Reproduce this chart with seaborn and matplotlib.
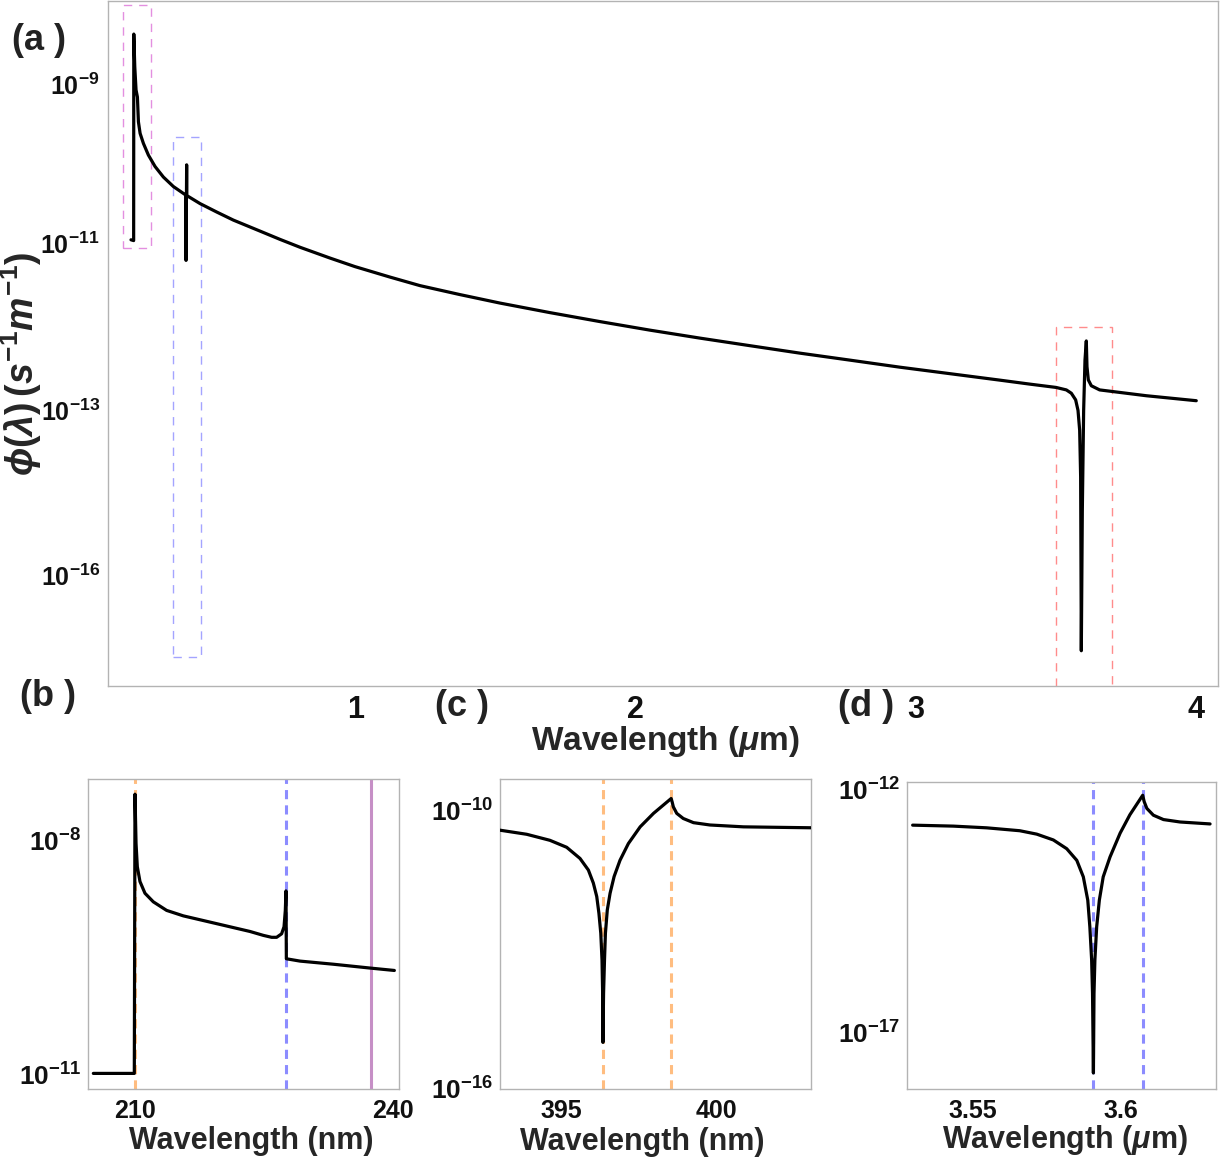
import numpy as np
import pandas as pd
import matplotlib
matplotlib.use("Agg")
import matplotlib.pyplot as plt
from matplotlib.patches import Rectangle
from matplotlib.ticker import FixedLocator, FixedFormatter, NullLocator
import seaborn as sns

# ---------------- data (phi given as log10 values) ----------------
# (a) full spectrum, wavelength in um
wl_a = [0.200, 0.2095, 0.2100, 0.2135, 0.2180, 0.2229, 0.2265, 0.2325, 0.2442,
        0.2620, 0.2859, 0.3155, 0.3512, 0.3954, 0.3963, 0.3985, 0.3990, 0.4463,
        0.5059, 0.5651, 0.6602, 0.7316, 0.8029, 0.9098, 0.9989, 1.1237, 1.2307,
        1.3733, 1.5159, 1.6941, 1.8724, 2.0506, 2.2289, 2.4071, 2.5854, 2.7636,
        2.9418, 3.1201, 3.2984, 3.4053, 3.4993, 3.5361, 3.5539, 3.5693, 3.5777,
        3.5836, 3.5871, 3.5895, 3.5931, 3.5978, 3.6026, 3.6073, 3.6097, 3.6145,
        3.6252, 3.6549, 3.7025, 3.8213, 3.9995]
logphi_a = [-10.95, -10.96, -8.37, -8.78, -9.07, -9.16, -9.47, -9.615, -9.74,
            -9.887, -10.031, -10.163, -10.282, -10.389, -11.20, -10.01, -10.395, -10.496,
            -10.602, -10.703, -10.841, -10.945, -11.042, -11.172, -11.275, -11.401, -11.504,
            -11.612, -11.714, -11.829, -11.937, -12.040, -12.136, -12.227, -12.317, -12.401,
            -12.486, -12.564, -12.642, -12.69, -12.73, -12.76, -12.80, -12.88, -13.01,
            -13.37, -14.22, -17.37, -14.82, -13.01, -12.40, -12.17, -12.48, -12.64,
            -12.71, -12.76, -12.78, -12.83, -12.89]

# (b) 205-240 nm
wl_b = [205.155, 209.92, 210.00, 210.12, 210.27, 210.58, 211.16, 212.13, 213.68,
        215.62, 217.56, 219.50, 221.43, 223.37, 224.92, 225.89, 226.47, 227.05,
        227.33, 227.48, 227.56, 227.60, 229.19, 233.06, 237.40, 240.16]
logphi_b = [-10.98, -10.98, -7.40, -8.03, -8.33, -8.52, -8.67, -8.78, -8.89,
            -8.96, -9.01, -9.06, -9.11, -9.16, -9.21, -9.235, -9.235, -9.19,
            -9.10, -8.89, -8.64, -9.51, -9.54, -9.58, -9.63, -9.66]

# (c) 393-403 nm
wl_c = [392.99, 393.87, 394.62, 395.16, 395.59, 395.86, 396.02, 396.13, 396.20,
        396.26, 396.30, 396.32, 396.33, 396.35, 396.38, 396.41, 396.47, 396.56,
        396.69, 396.88, 397.15, 397.53, 397.96, 398.53, 398.56, 398.60, 398.71,
        398.92, 399.25, 399.78, 400.86, 401.93, 403.05]
logphi_c = [-10.43, -10.52, -10.65, -10.80, -11.04, -11.29, -11.57, -11.86, -12.22,
            -12.65, -13.23, -13.94, -15.00, -13.94, -13.23, -12.65, -12.15, -11.79,
            -11.43, -11.08, -10.72, -10.36, -10.07, -9.75, -9.82, -9.93, -10.07,
            -10.18, -10.27, -10.32, -10.36, -10.37, -10.38]

# (d) 3.53-3.63 um
wl_d = [3.5298, 3.5435, 3.5547, 3.5659, 3.5716, 3.5772, 3.5817, 3.5851, 3.5873,
        3.5888, 3.5895, 3.5901, 3.5904, 3.5907, 3.5909, 3.5912, 3.5918, 3.5927,
        3.5940, 3.5963, 3.5997, 3.6030, 3.6073, 3.6078, 3.6087, 3.6109, 3.6143,
        3.6199, 3.6300]
logphi_d = [-12.735, -12.755, -12.79, -12.85, -12.92, -13.04, -13.22, -13.46, -13.80,
            -14.28, -14.83, -15.51, -16.20, -17.84, -16.20, -15.51, -14.83, -14.28,
            -13.80, -13.39, -12.90, -12.52, -12.12, -12.25, -12.39, -12.53, -12.62,
            -12.67, -12.71]

# marker lines (wavelengths)
lines_b_orange = [210.0]
lines_b_blue = [227.6]
lines_b_purple = [237.4]
lines_c_orange = [396.34, 398.53]
lines_d_blue = [3.5907, 3.6073]

# zoom boxes in (a): (x0, x1, log y0, log y1, colour)
boxes_a = [(0.171, 0.271, -11.05, -8.0, "#e38fe0"),
           (0.349, 0.450, -17.49, -9.66, "#a4a4ff"),
           (3.499, 3.699, -20.0, -12.0, "#ff8c8c")]

# y tick positions of the (non uniform) vertical scale in (a), pixel rows
tick_logs_a = np.array([-16.0, -13.0, -11.0, -9.0])
tick_rows_a = -np.array([575.0, 409.7, 243.7, 84.3])

# ---------------- style ----------------
sns.set_style("white")
plt.rcParams['font.family'] = ['Liberation Sans', 'DejaVu Sans']
plt.rcParams['font.weight'] = 'bold'
plt.rcParams['mathtext.fontset'] = 'custom'
plt.rcParams['mathtext.rm'] = 'Liberation Sans:bold'
plt.rcParams['mathtext.it'] = 'Liberation Sans:italic:bold'
plt.rcParams['mathtext.bf'] = 'Liberation Sans:bold'
plt.rcParams['mathtext.sf'] = 'Liberation Sans:bold'
plt.rcParams['mathtext.default'] = 'rm'
plt.rcParams['mathtext.fallback'] = 'stixsans'

W, H = 1221, 1157
fig = plt.figure(figsize=(W / 100, H / 100), dpi=100)


def box(l, r, t, b):
    return [l / W, (H - b) / H, (r - l) / W, (b - t) / H]


def lin_extrap(x, xp, fp):
    x = np.asarray(x, float)
    y = np.interp(x, xp, fp)
    y = np.where(x < xp[0], fp[0] + (x - xp[0]) * (fp[1] - fp[0]) / (xp[1] - xp[0]), y)
    y = np.where(x > xp[-1], fp[-1] + (x - xp[-1]) * (fp[-1] - fp[-2]) / (xp[-1] - xp[-2]), y)
    return y


def fwd(v):
    return lin_extrap(np.log10(np.clip(v, 1e-300, None)), tick_logs_a, tick_rows_a)


def inv(p):
    return 10.0 ** lin_extrap(p, tick_rows_a, tick_logs_a)


def dec(e):
    return r"$10^{%d}$" % e


def style_axes(ax, xfs, yfs, xpad, ypad):
    for s in ax.spines.values():
        s.set_color("#b3b3b3")
        s.set_linewidth(1.0)
    ax.tick_params(which="both", direction="in", length=6, width=1, color="#a0a0a0",
                   labelcolor="#111111")
    ax.tick_params(axis="x", labelsize=xfs, pad=xpad)
    ax.tick_params(axis="y", labelsize=yfs, pad=ypad)
    ax.yaxis.set_minor_locator(NullLocator())
    ax.xaxis.set_minor_locator(NullLocator())
    ax.set_facecolor("white")


def curve(ax, wl, logphi):
    df = pd.DataFrame({"wl": wl, "phi": 10.0 ** np.array(logphi)})
    sns.lineplot(data=df, x="wl", y="phi", ax=ax, color="black", lw=2.3,
                 estimator=None, sort=False, zorder=3)
    ax.set_xlabel("")
    ax.set_ylabel("")


dash = (0, (3, 2))
sub_label_y = -0.12

# ---------------- (a) ----------------
axa = fig.add_axes(box(108, 1218, 1, 686))
curve(axa, wl_a, logphi_a)
axa.set_yscale("function", functions=(fwd, inv))
for x0, x1, y0, y1, c in boxes_a:
    axa.add_patch(Rectangle((x0, 10.0 ** y0), x1 - x0, 10.0 ** y1 - 10.0 ** y0,
                            fill=False, edgecolor=c, lw=1.0, ls=(0, (6, 5)), zorder=2))
axa.set_xlim(0.118, 4.077)
axa.set_ylim(10 ** -18.01, 10 ** -7.955)
axa.yaxis.set_major_locator(FixedLocator(10.0 ** tick_logs_a))
axa.yaxis.set_major_formatter(FixedFormatter([dec(int(e)) for e in tick_logs_a]))
axa.xaxis.set_major_locator(FixedLocator([1, 2, 3, 4]))
axa.xaxis.set_major_formatter(FixedFormatter(["1", "2", "3", "4"]))
style_axes(axa, 22, 18, 6.5, 6)
axa.set_xlabel(r"Wavelength ($\mathit{\mu}$m)", fontsize=24, fontweight="bold")
axa.xaxis.set_label_coords(0.502, -0.055)
axa.set_ylabel(r"$\mathit{\phi}(\mathit{\lambda})\,(\mathit{s}^{-1}\mathit{m}^{-1})$",
               fontsize=27)
axa.yaxis.set_label_coords(-0.058, 0.47)

# ---------------- (b) ----------------
axb = fig.add_axes(box(88.3, 399, 779, 1089))
for v in lines_b_orange:
    axb.axvline(v, color="#ffbd80", lw=2.2, ls=dash, zorder=1)
for v in lines_b_blue:
    axb.axvline(v, color="#8c8cff", lw=2.2, ls=dash, zorder=1)
for v in lines_b_purple:
    axb.axvline(v, color="#c68fc6", lw=2.2, zorder=1)
curve(axb, wl_b, logphi_b)
axb.set_yscale("log")
axb.set_xlim(204.57, 240.7)
axb.set_ylim(10 ** -11.18, 10 ** -7.205)
axb.yaxis.set_major_locator(FixedLocator([1e-8, 1e-9, 1e-10, 1e-11]))
axb.yaxis.set_major_formatter(FixedFormatter([dec(-8), "", "", dec(-11)]))
axb.xaxis.set_major_locator(FixedLocator([210, 215, 220, 225, 230, 235, 240]))
axb.xaxis.set_major_formatter(FixedFormatter(["210", "", "", "", "", "", "240"]))
style_axes(axb, 18, 19, 7, 5)
axb.set_xlabel("Wavelength (nm)", fontsize=22, fontweight="bold")
axb.xaxis.set_label_coords(0.525, sub_label_y)

# ---------------- (c) ----------------
axc = fig.add_axes(box(500, 810.7, 779, 1089.3))
for v in lines_c_orange:
    axc.axvline(v, color="#ffbd80", lw=2.2, ls=dash, zorder=1)
curve(axc, wl_c, logphi_c)
axc.set_yscale("log")
axc.set_xlim(393.01, 403.03)
axc.set_ylim(10 ** -16.01, 10 ** -9.33)
axc.yaxis.set_major_locator(FixedLocator([10.0 ** e for e in range(-10, -17, -1)]))
axc.yaxis.set_major_formatter(FixedFormatter([dec(-10), "", "", "", "", "", dec(-16)]))
axc.xaxis.set_major_locator(FixedLocator([395, 397.5, 400, 402.5]))
axc.xaxis.set_major_formatter(FixedFormatter(["395", "", "400", ""]))
style_axes(axc, 18, 19, 7, 5)
axc.set_xlabel("Wavelength (nm)", fontsize=22, fontweight="bold")
axc.xaxis.set_label_coords(0.457, sub_label_y)

# ---------------- (d) ----------------
axd = fig.add_axes(box(907.3, 1216, 781.7, 1089))
for v in lines_d_blue:
    axd.axvline(v, color="#8c8cff", lw=2.2, ls=dash, zorder=1)
curve(axd, wl_d, logphi_d)
axd.set_yscale("log")
axd.set_xlim(3.528, 3.632)
axd.set_ylim(10 ** -18.17, 10 ** -11.84)
axd.yaxis.set_major_locator(FixedLocator([10.0 ** e for e in range(-12, -18, -1)]))
axd.yaxis.set_major_formatter(FixedFormatter([dec(-12), "", "", "", "", dec(-17)]))
axd.xaxis.set_major_locator(FixedLocator([3.55, 3.6]))
axd.xaxis.set_major_formatter(FixedFormatter(["3.55", "3.6"]))
style_axes(axd, 18, 19, 7, 5)
axd.set_xlabel(r"Wavelength ($\mathit{\mu}$m)", fontsize=22, fontweight="bold")
axd.xaxis.set_label_coords(0.511, -0.112)

# panel letters
for lab, x, y in [("(a )", 12, 40), ("(b )", 20, 696), ("(c )", 435, 706), ("(d )", 838, 706)]:
    fig.text(x / W, 1 - y / H, lab, fontsize=26, fontweight="bold", color="#222222",
             ha="left", va="center")

fig.savefig("out.png", dpi=100)
